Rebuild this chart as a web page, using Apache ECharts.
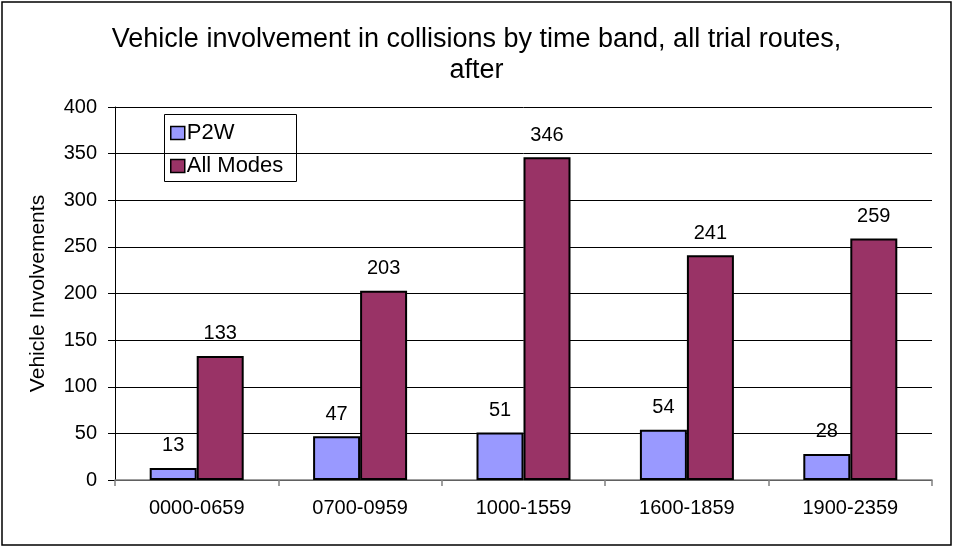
<!DOCTYPE html>
<html>
<head>
<meta charset="utf-8">
<script src="https://cdn.jsdelivr.net/npm/echarts@6/dist/echarts.min.js"></script>
<style>
html,body{margin:0;padding:0;background:#fff;}
#chart{width:953px;height:546px;}
</style>
</head>
<body>
<div id="chart"></div>
<script>
var titleText = 'Vehicle involvement in collisions by time band, all trial routes,\nafter';
var categories = ['0000-0659', '0700-0959', '1000-1559', '1600-1859', '1900-2359'];
var p2wValues = [13, 47, 51, 54, 28];
var allModesValues = [133, 203, 346, 241, 259];
var seriesNames = ['P2W', 'All Modes'];
var yAxisName = 'Vehicle Involvements';

var FONT = '"Liberation Sans", Arial, sans-serif';
var chart = echarts.init(document.getElementById('chart'), null, {renderer: 'canvas'});

function barSeries(name, data, color) {
  return {
    name: name,
    type: 'bar',
    data: data,
    barWidth: 47,
    barGap: '0%',
    itemStyle: {color: color, borderColor: '#000', borderWidth: 2},
    label: {
      show: true, position: 'top', distance: 12,
      fontFamily: FONT, fontSize: 20, color: '#000'
    },
    emphasis: {disabled: true}
  };
}

chart.setOption({
  animation: false,
  backgroundColor: '#fff',
  title: {
    text: titleText,
    left: 'center',
    top: 19,
    textStyle: {fontFamily: FONT, fontSize: 27, fontWeight: 'normal', color: '#000', lineHeight: 31}
  },
  grid: {left: 115, right: 21, top: 107, bottom: 66, containLabel: false},
  legend: {
    left: 170, top: 122, orient: 'vertical', padding: 0,
    itemWidth: 14, itemHeight: 13, itemGap: 11,
    icon: 'rect',
    textStyle: {fontFamily: FONT, fontSize: 22, color: '#000', lineHeight: 22, padding: [0, 0, 0, -3]},
    itemStyle: {borderColor: '#000', borderWidth: 1.5},
    data: seriesNames
  },
  graphic: [
    {type: 'rect', shape: {x: 2, y: 2, width: 949, height: 543}, style: {fill: null, stroke: '#000', lineWidth: 1.5}, silent: true, z: 100},
    {type: 'rect', shape: {x: 164.5, y: 114.5, width: 132, height: 67}, style: {fill: '#fff', stroke: '#000', lineWidth: 1}, silent: true, z: 0, zlevel: 0}
  ],
  xAxis: {
    type: 'category',
    data: categories,
    boundaryGap: true,
    axisLine: {lineStyle: {color: '#808080', width: 1.5}},
    axisTick: {show: true, length: 6, lineStyle: {color: '#808080', width: 1.5}},
    axisLabel: {fontFamily: FONT, fontSize: 20, color: '#000', margin: 18}
  },
  yAxis: {
    type: 'value',
    min: 0, max: 400, interval: 50,
    name: yAxisName,
    nameLocation: 'middle',
    nameGap: 66,
    nameTextStyle: {fontFamily: FONT, fontSize: 21, color: '#000'},
    axisLine: {show: true, lineStyle: {color: '#000', width: 1}},
    axisTick: {show: true, length: 7, lineStyle: {color: '#000'}},
    axisLabel: {fontFamily: FONT, fontSize: 20, color: '#000', margin: 18},
    splitLine: {show: true, lineStyle: {color: '#000', width: 1}}
  },
  series: [
    barSeries(seriesNames[0], p2wValues, '#9999FF'),
    barSeries(seriesNames[1], allModesValues, '#993366')
  ]
});
</script>
</body>
</html>
